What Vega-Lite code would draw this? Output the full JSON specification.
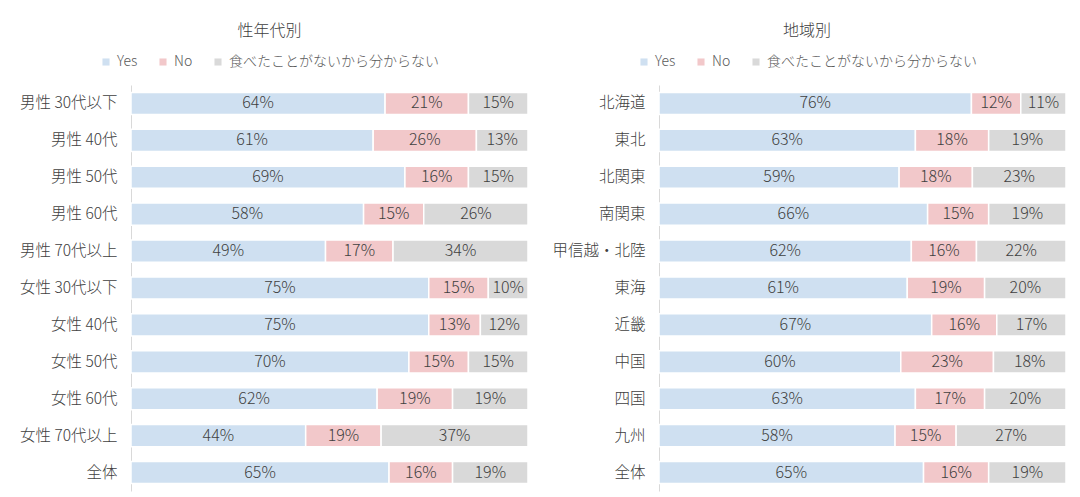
{
  "$schema": "https://vega.github.io/schema/vega-lite/v6.json",
  "padding": {"left": 10, "top": 23, "right": 14, "bottom": 7},
  "datasets": {
    "age": [
      {"cat": "男性 30代以下", "answer": "Yes", "o": 1, "value": 0.64},
      {"cat": "男性 30代以下", "answer": "No", "o": 2, "value": 0.21},
      {"cat": "男性 30代以下", "answer": "食べたことがないから分からない", "o": 3, "value": 0.15},
      {"cat": "男性 40代", "answer": "Yes", "o": 1, "value": 0.61},
      {"cat": "男性 40代", "answer": "No", "o": 2, "value": 0.26},
      {"cat": "男性 40代", "answer": "食べたことがないから分からない", "o": 3, "value": 0.13},
      {"cat": "男性 50代", "answer": "Yes", "o": 1, "value": 0.69},
      {"cat": "男性 50代", "answer": "No", "o": 2, "value": 0.16},
      {"cat": "男性 50代", "answer": "食べたことがないから分からない", "o": 3, "value": 0.15},
      {"cat": "男性 60代", "answer": "Yes", "o": 1, "value": 0.58},
      {"cat": "男性 60代", "answer": "No", "o": 2, "value": 0.15},
      {"cat": "男性 60代", "answer": "食べたことがないから分からない", "o": 3, "value": 0.26},
      {"cat": "男性 70代以上", "answer": "Yes", "o": 1, "value": 0.49},
      {"cat": "男性 70代以上", "answer": "No", "o": 2, "value": 0.17},
      {"cat": "男性 70代以上", "answer": "食べたことがないから分からない", "o": 3, "value": 0.34},
      {"cat": "女性 30代以下", "answer": "Yes", "o": 1, "value": 0.75},
      {"cat": "女性 30代以下", "answer": "No", "o": 2, "value": 0.15},
      {"cat": "女性 30代以下", "answer": "食べたことがないから分からない", "o": 3, "value": 0.10},
      {"cat": "女性 40代", "answer": "Yes", "o": 1, "value": 0.75},
      {"cat": "女性 40代", "answer": "No", "o": 2, "value": 0.13},
      {"cat": "女性 40代", "answer": "食べたことがないから分からない", "o": 3, "value": 0.12},
      {"cat": "女性 50代", "answer": "Yes", "o": 1, "value": 0.70},
      {"cat": "女性 50代", "answer": "No", "o": 2, "value": 0.15},
      {"cat": "女性 50代", "answer": "食べたことがないから分からない", "o": 3, "value": 0.15},
      {"cat": "女性 60代", "answer": "Yes", "o": 1, "value": 0.62},
      {"cat": "女性 60代", "answer": "No", "o": 2, "value": 0.19},
      {"cat": "女性 60代", "answer": "食べたことがないから分からない", "o": 3, "value": 0.19},
      {"cat": "女性 70代以上", "answer": "Yes", "o": 1, "value": 0.44},
      {"cat": "女性 70代以上", "answer": "No", "o": 2, "value": 0.19},
      {"cat": "女性 70代以上", "answer": "食べたことがないから分からない", "o": 3, "value": 0.37},
      {"cat": "全体", "answer": "Yes", "o": 1, "value": 0.65},
      {"cat": "全体", "answer": "No", "o": 2, "value": 0.16},
      {"cat": "全体", "answer": "食べたことがないから分からない", "o": 3, "value": 0.19}
    ],
    "region": [
      {"cat": "北海道", "answer": "Yes", "o": 1, "value": 0.76},
      {"cat": "北海道", "answer": "No", "o": 2, "value": 0.12},
      {"cat": "北海道", "answer": "食べたことがないから分からない", "o": 3, "value": 0.11},
      {"cat": "東北", "answer": "Yes", "o": 1, "value": 0.63},
      {"cat": "東北", "answer": "No", "o": 2, "value": 0.18},
      {"cat": "東北", "answer": "食べたことがないから分からない", "o": 3, "value": 0.19},
      {"cat": "北関東", "answer": "Yes", "o": 1, "value": 0.59},
      {"cat": "北関東", "answer": "No", "o": 2, "value": 0.18},
      {"cat": "北関東", "answer": "食べたことがないから分からない", "o": 3, "value": 0.23},
      {"cat": "南関東", "answer": "Yes", "o": 1, "value": 0.66},
      {"cat": "南関東", "answer": "No", "o": 2, "value": 0.15},
      {"cat": "南関東", "answer": "食べたことがないから分からない", "o": 3, "value": 0.19},
      {"cat": "甲信越・北陸", "answer": "Yes", "o": 1, "value": 0.62},
      {"cat": "甲信越・北陸", "answer": "No", "o": 2, "value": 0.16},
      {"cat": "甲信越・北陸", "answer": "食べたことがないから分からない", "o": 3, "value": 0.22},
      {"cat": "東海", "answer": "Yes", "o": 1, "value": 0.61},
      {"cat": "東海", "answer": "No", "o": 2, "value": 0.19},
      {"cat": "東海", "answer": "食べたことがないから分からない", "o": 3, "value": 0.20},
      {"cat": "近畿", "answer": "Yes", "o": 1, "value": 0.67},
      {"cat": "近畿", "answer": "No", "o": 2, "value": 0.16},
      {"cat": "近畿", "answer": "食べたことがないから分からない", "o": 3, "value": 0.17},
      {"cat": "中国", "answer": "Yes", "o": 1, "value": 0.60},
      {"cat": "中国", "answer": "No", "o": 2, "value": 0.23},
      {"cat": "中国", "answer": "食べたことがないから分からない", "o": 3, "value": 0.18},
      {"cat": "四国", "answer": "Yes", "o": 1, "value": 0.63},
      {"cat": "四国", "answer": "No", "o": 2, "value": 0.17},
      {"cat": "四国", "answer": "食べたことがないから分からない", "o": 3, "value": 0.20},
      {"cat": "九州", "answer": "Yes", "o": 1, "value": 0.58},
      {"cat": "九州", "answer": "No", "o": 2, "value": 0.15},
      {"cat": "九州", "answer": "食べたことがないから分からない", "o": 3, "value": 0.27},
      {"cat": "全体", "answer": "Yes", "o": 1, "value": 0.65},
      {"cat": "全体", "answer": "No", "o": 2, "value": 0.16},
      {"cat": "全体", "answer": "食べたことがないから分からない", "o": 3, "value": 0.19}
    ]
  },
  "config": {
    "font": "Noto Sans CJK JP",
    "view": {"stroke": null},
    "title": {"fontSize": 16, "fontWeight": 300, "color": "#404040", "anchor": "middle", "frame": "bounds", "offset": 16},
    "axis": {"domainColor": "#d9d9d9", "ticks": false, "grid": false, "labelFontSize": 15.5, "labelColor": "#404040", "labelPadding": 14, "labelFontWeight": 300},
    "legend": {"labelFontSize": 14, "labelColor": "#595959", "labelFontWeight": 300, "labelLimit": 500, "symbolType": "square", "symbolSize": 50, "symbolStrokeWidth": 0, "columnPadding": 18, "labelOffset": 4}
  },
  "spacing": 18,
  "resolve": {"scale": {"color": "independent", "x": "independent", "y": "independent"}, "legend": {"color": "independent"}},
  "hconcat": [
    {
      "title": "性年代別",
      "width": 397,
      "height": 406,
      "data": {"name": "age"},
      "encoding": {
        "y": {"field": "cat", "type": "nominal", "sort": null, "title": null, "scale": {"paddingInner": 0.4, "paddingOuter": 0.2}, "axis": {"minExtent": 121, "maxExtent": 121}},
        "x": {"field": "value", "type": "quantitative", "stack": "normalize", "axis": null},
        "order": {"field": "o", "type": "quantitative"}
      },
      "layer": [
        {
          "mark": {"type": "bar", "stroke": "white", "strokeWidth": 1.5},
          "encoding": {
            "color": {"field": "answer", "type": "nominal",
              "scale": {"domain": ["Yes", "No", "食べたことがないから分からない"], "range": ["#cfe0f1", "#f2c8ca", "#d9d9d9"]},
              "legend": {"title": null, "orient": "none", "legendX": -32, "legendY": -30, "direction": "horizontal"}}
          }
        },
        {
          "mark": {"type": "text", "fontSize": 16, "fontWeight": 300, "color": "#404040"},
          "encoding": {
            "x": {"field": "value", "type": "quantitative", "stack": "normalize", "bandPosition": 0.5, "axis": null},
            "detail": {"field": "answer"},
            "text": {"field": "value", "type": "quantitative", "format": ".0%"}
          }
        }
      ]
    },
    {
      "title": "地域別",
      "width": 407,
      "height": 406,
      "data": {"name": "region"},
      "encoding": {
        "y": {"field": "cat", "type": "nominal", "sort": null, "title": null, "scale": {"paddingInner": 0.4, "paddingOuter": 0.2}, "axis": {"minExtent": 112, "maxExtent": 112}},
        "x": {"field": "value", "type": "quantitative", "stack": "normalize", "axis": null},
        "order": {"field": "o", "type": "quantitative"}
      },
      "layer": [
        {
          "mark": {"type": "bar", "stroke": "white", "strokeWidth": 1.5},
          "encoding": {
            "color": {"field": "answer", "type": "nominal",
              "scale": {"domain": ["Yes", "No", "食べたことがないから分からない"], "range": ["#cfe0f1", "#f2c8ca", "#d9d9d9"]},
              "legend": {"title": null, "orient": "none", "legendX": -22, "legendY": -30, "direction": "horizontal"}}
          }
        },
        {
          "mark": {"type": "text", "fontSize": 16, "fontWeight": 300, "color": "#404040"},
          "encoding": {
            "x": {"field": "value", "type": "quantitative", "stack": "normalize", "bandPosition": 0.5, "axis": null},
            "detail": {"field": "answer"},
            "text": {"field": "value", "type": "quantitative", "format": ".0%"}
          }
        }
      ]
    }
  ]
}
